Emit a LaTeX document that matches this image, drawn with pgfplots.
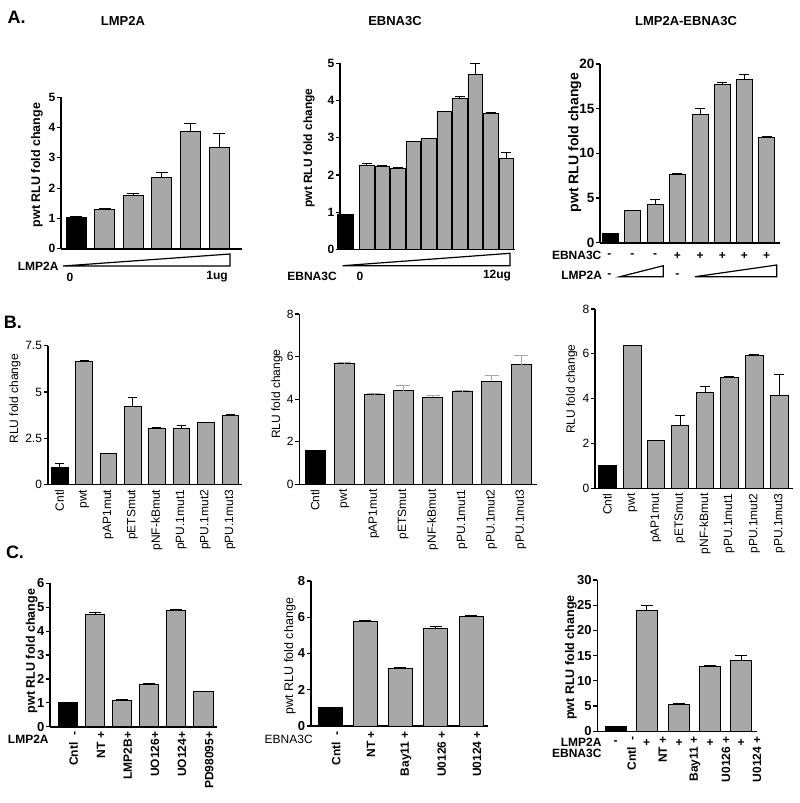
\documentclass[border=0pt]{standalone}
\usepackage{fontspec}
\setmainfont{Liberation Sans}
\usepackage{pgfplots}
\pgfplotsset{compat=1.18}
\definecolor{barg}{RGB}{168,168,168}
\newcommand{\fs}[1]{\fontsize{#1}{#1}\selectfont}
\pgfplotsset{
  panel/.style={
    scale only axis, anchor=south west, axis lines*=left,
    axis line style={line width=1.6pt, black},
    ymin=0, tick align=outside, ytick pos=left,
    major tick length=4pt, ytick style={line width=1.2pt, black},
    xtick style={draw=none},
    clip=false,
    /pgf/number format/assume math mode=true,
    yticklabel style={font=\fs{12}\bfseries, inner sep=1.5pt},
    xticklabel style={font=\fs{12}\bfseries, rotate=90, anchor=east, inner sep=1pt},
  },
  barG/.style={ybar, bar shift=0pt, fill=barg, draw=black, line width=0.7pt},
  barK/.style={ybar, bar shift=0pt, fill=black, draw=black, line width=0.7pt},
  eb/.style={error bars/y dir=plus, error bars/y explicit,
    error bars/error bar style={line width=1pt, black, solid},
    error bars/error mark options={rotate=90, line width=1pt, black, mark size=#1}},
  eb/.default=5pt,
  ebg/.style={error bars/y dir=plus, error bars/y explicit,
    error bars/error bar style={line width=1pt, black!35, solid},
    error bars/error mark options={rotate=90, line width=1pt, black!35, mark size=#1}},
  ebg/.default=7pt,
}
\begin{document}
\begin{tikzpicture}
\useasboundingbox (0pt,0pt) rectangle (800pt,-803pt);

% ================= A1 =================
\begin{axis}[panel, at={(61pt,-248.7pt)}, width=180.7pt, height=151.4pt,
  xmin=61, xmax=241.7, ymax=5, ytick={0,1,...,5}, xtick=\empty]
\addplot[barK, bar width=20pt, eb=6pt] coordinates {(76.3,1.02) +- (0,0.06)};
\addplot[barG, bar width=20pt, eb=6pt] coordinates {
 (104.7,1.30) +- (0,0.03) (133,1.77) +- (0,0.06) (161.7,2.36) +- (0,0.17)
 (190.3,3.88) +- (0,0.27) (219,3.34) +- (0,0.45)};
\end{axis}

% ================= A2 =================
\begin{axis}[panel, at={(340pt,-249.3pt)}, width=175pt, height=186pt,
  xmin=340, xmax=515, ymax=5, ytick={0,1,...,5}, xtick=\empty]
\addplot[barK, bar width=16pt] coordinates {(345.3,0.93)};
\addplot[barG, bar width=14.7pt, eb=5pt] coordinates {
 (366.7,2.25) +- (0,0.05) (382.2,2.23) +- (0,0.03) (397.7,2.18) +- (0,0.02)
 (413.2,2.90) +- (0,0.01) (428.7,2.98) +- (0,0.01) (444.2,3.70) +- (0,0.01)
 (459.7,4.05) +- (0,0.05) (475.2,4.70) +- (0,0.30) (490.7,3.65) +- (0,0.04)
 (506.2,2.45) +- (0,0.15)};
\end{axis}

% ================= A3 =================
\begin{axis}[panel, at={(600pt,-242.7pt)}, width=180pt, height=178.7pt,
  xmin=600, xmax=780, ymax=20, ytick={0,5,...,20}, xtick=\empty,
  yticklabel style={font=\fs{13.5}\bfseries}]
\addplot[barK, bar width=16pt] coordinates {(610,1.04)};
\addplot[barG, bar width=16pt, eb=5pt] coordinates {
 (632.3,3.58) +- (0,0.08) (655,4.29) +- (0,0.60) (677.3,7.65) +- (0,0.08)
 (700,14.4) +- (0,0.60) (722.3,17.7) +- (0,0.25) (744.3,18.3) +- (0,0.50)
 (766.7,11.75) +- (0,0.15)};
\end{axis}

% ================= B1 =================
\begin{axis}[panel, at={(47.7pt,-484.5pt)}, width=194pt, height=138.8pt,
  xmin=47.7, xmax=241.7, ymax=7.5, ytick={0,2.5,5,7.5},
  yticklabel style={font=\fs{12}},
  xtick={59.7,84,108.3,132.5,156.8,181.2,205.5,230.2},
  xticklabels={Cntl,pwt,pAP1mut,pETSmut,pNF-kBmut,pPU.1mut1,pPU.1mut2,pPU.1mut3},
  xticklabel style={font=\fs{12}}]
\addplot[barK, bar width=16.3pt, eb=4.5pt] coordinates {(59.7,0.92) +- (0,0.22)};
\addplot[barG, bar width=16.7pt, eb=4.5pt] coordinates {
 (84,6.63) +- (0,0.07) (108.3,1.69) +- (0,0) (132.5,4.23) +- (0,0.49)
 (156.8,3.06) +- (0,0) (181.2,3.06) +- (0,0.15) (205.5,3.37) +- (0,0)
 (230.2,3.73) +- (0,0.05)};
\end{axis}

% ================= B2 =================
\begin{axis}[panel, at={(299.3pt,-484.3pt)}, width=237.7pt, height=170.3pt,
  xmin=299.3, xmax=537, ymax=8, ytick={0,2,...,8},
  yticklabel style={font=\fs{12}},
  xtick={315,344.3,374,403.3,432.7,462.3,491.7,521},
  xticklabels={Cntl,pwt,pAP1mut,pETSmut,pNF-kBmut,pPU.1mut1,pPU.1mut2,pPU.1mut3},
  xticklabel style={font=\fs{12}}]
\addplot[barK, bar width=20pt] coordinates {(315,1.58)};
\addplot[barG, bar width=20pt, ebg=7pt] coordinates {
 (344.3,5.67) +- (0,0.05) (374,4.24) +- (0,0.01) (403.3,4.40) +- (0,0.22)
 (432.7,4.10) +- (0,0.05) (462.3,4.38) +- (0,0.01) (491.7,4.85) +- (0,0.27)
 (521,5.62) +- (0,0.44)};
\end{axis}

% ================= B3 =================
\begin{axis}[panel, at={(595pt,-488.3pt)}, width=198pt, height=179.3pt,
  xmin=595, xmax=793, ymax=8, ytick={0,2,...,8},
  yticklabel style={font=\fs{12}},
  xtick={607.3,632.3,656,680,705,729.3,754.3,779.3},
  xticklabels={Cntl,pwt,pAP1mut,pETSmut,pNF-kBmut,pPU.1mut1,pPU.1mut2,pPU.1mut3},
  xticklabel style={font=\fs{12}}]
\addplot[barK, bar width=17.3pt] coordinates {(607.3,1.01)};
\addplot[barG, bar width=17.3pt, eb=5pt] coordinates {
 (632.3,6.39) +- (0,0) (656,2.13) +- (0,0) (680,2.80) +- (0,0.44)
 (705,4.27) +- (0,0.29) (729.3,4.94) +- (0,0.03) (754.3,5.93) +- (0,0.03)
 (779.3,4.15) +- (0,0.92)};
\end{axis}

% ================= C1 =================
\begin{axis}[panel, at={(50pt,-726.7pt)}, width=167.3pt, height=143.4pt,
  xmin=50, xmax=217.3, ymax=6, ytick={0,1,...,6},
  yticklabel style={font=\fs{13}\bfseries},
  xtick={67.7,95,121.7,149,176,203.3},
  xticklabels={Cntl\ \ -,NT +,LMP2B+,UO126+,UO124+,PD98095+},
  xticklabel style={yshift=-6pt}]
\addplot[barK, bar width=19.3pt] coordinates {(67.7,1.02)};
\addplot[barG, bar width=19.3pt, eb=6pt] coordinates {
 (95,4.72) +- (0,0.05) (121.7,1.10) +- (0,0.02) (149,1.77) +- (0,0.03)
 (176,4.88) +- (0,0.04) (203.3,1.47) +- (0,0)};
\end{axis}

% ================= C2 =================
\begin{axis}[panel, at={(310.7pt,-726pt)}, width=177.6pt, height=145pt,
  xmin=310.7, xmax=488.3, ymax=8, ytick={0,2,...,8},
  yticklabel style={font=\fs{13}\bfseries},
  xtick={330,365,400,435.7,471},
  xticklabels={Cntl\ \ -,NT +,Bay11 +,U0126 +,U0124 +},
  xticklabel style={yshift=-6pt}]
\addplot[barK, bar width=24pt, line width=1pt] coordinates {(330,1.03)};
\addplot[barG, bar width=24pt, line width=1pt, eb=6pt] coordinates {
 (365,5.75) +- (0,0.07) (400,3.16) +- (0,0.05) (435.7,5.39) +- (0,0.08)
 (471,6.05) +- (0,0.06)};
\end{axis}

% ================= C3 =================
\begin{axis}[panel, at={(597.3pt,-731.3pt)}, width=160pt, height=151.3pt,
  xmin=597.3, xmax=757.3, ymax=30, ytick={0,5,...,30},
  yticklabel style={font=\fs{13}\bfseries},
  xtick={615.7,646.7,679,710,741},
  xticklabels={Cntl\ \ -,NT +,Bay11 +,U0126 +,U0124 +},
  xticklabel style={yshift=-16pt}]
\addplot[barK, bar width=20.7pt] coordinates {(615.7,0.93)};
\addplot[barG, bar width=20.7pt, eb=6pt] coordinates {
 (646.7,24.0) +- (0,1.0) (679,5.35) +- (0,0.25) (710,12.8) +- (0,0.2)
 (741,14.0) +- (0,1.0)};
\end{axis}

\begin{scope}[x=1pt,y=-1pt]
% ---------- panel letters and titles ----------
\node[font=\fs{18}\bfseries] at (16.7,17) {A.};
\node[font=\fs{18}\bfseries] at (13,322) {B.};
\node[font=\fs{18}\bfseries] at (15,552) {C.};
\node[font=\fs{13}\bfseries] at (123,21) {LMP2A};
\node[font=\fs{13}\bfseries] at (395,21) {EBNA3C};
\node[font=\fs{13}\bfseries] at (686,21) {LMP2A-EBNA3C};
% A1
\node[rotate=90, font=\fs{12.5}\bfseries] at (37,165) {pwt RLU fold change};
\draw[line width=1.2pt, fill=white] (63,266) -- (230,266) -- (230,254) -- cycle;
\node[font=\fs{12}\bfseries, anchor=east] at (62,266) {LMP2A};
\node[font=\fs{12}\bfseries] at (70,277) {0};
\node[font=\fs{12}\bfseries] at (217,277) {1ug};
% A2
\node[rotate=90, font=\fs{12}\bfseries] at (309,148) {pwt RLU fold change};
\draw[line width=1.2pt, fill=white] (342.7,265.7) -- (510,265.7) -- (510,253.3) -- cycle;
\node[font=\fs{12}\bfseries] at (312,276) {EBNA3C};
\node[font=\fs{12}\bfseries] at (360,276) {0};
\node[font=\fs{12}\bfseries] at (497,276) {12ug};
% A3
\node[rotate=90, font=\fs{14}\bfseries] at (574.7,142.5) {pwt RLU fold change};
\node[font=\fs{12}\bfseries] at (576.7,255.7) {EBNA3C};
\foreach \xx in {609.3,632.3,655} \node[font=\fs{12}\bfseries] at (\xx,255.7) {-};
\foreach \xx in {677.3,700,722.3,744.3,766.7} \node[font=\fs{12}\bfseries] at (\xx,255.7) {+};
\node[font=\fs{12}\bfseries] at (581.7,275.7) {LMP2A};
\node[font=\fs{12}\bfseries] at (609.3,275.7) {-};
\node[font=\fs{12}\bfseries] at (677.3,275.7) {-};
\draw[line width=1.2pt, fill=white] (620,276.7) -- (663.3,276.7) -- (663.3,265.7) -- cycle;
\draw[line width=1.2pt, fill=white] (695,276.7) -- (776.7,276.7) -- (776.7,265) -- cycle;
% B
\node[rotate=90, font=\fs{12}] at (15,398.7) {RLU fold change};
\node[rotate=90, font=\fs{12}] at (277,394) {RLU fold change};
\node[rotate=90, font=\fs{12}] at (571.7,389) {RLU fold change};
% C
\node[rotate=90, font=\fs{12.5}\bfseries] at (31.7,651) {pwt RLU fold change};
\node[font=\fs{12}\bfseries] at (28.3,739.3) {LMP2A};
\node[rotate=90, font=\fs{12.5}] at (290,656) {pwt RLU fold change};
\node[font=\fs{12}] at (288.7,739) {EBNA3C};
\node[rotate=90, font=\fs{12.5}\bfseries] at (571,657.5) {pwt RLU fold change};
\node[font=\fs{12}\bfseries, anchor=east, inner sep=0pt] at (601.7,742.7) {LMP2A};
\node[font=\fs{12}\bfseries, anchor=east, inner sep=0pt] at (601.7,753.3) {EBNA3C};
\node[font=\fs{12}\bfseries, inner sep=0pt] at (615.7,742.7) {-};
\foreach \xx in {646.7,679,710,741} \node[font=\fs{12}\bfseries, inner sep=0pt] at (\xx,742.7) {+};
\end{scope}
\end{tikzpicture}
\end{document}
